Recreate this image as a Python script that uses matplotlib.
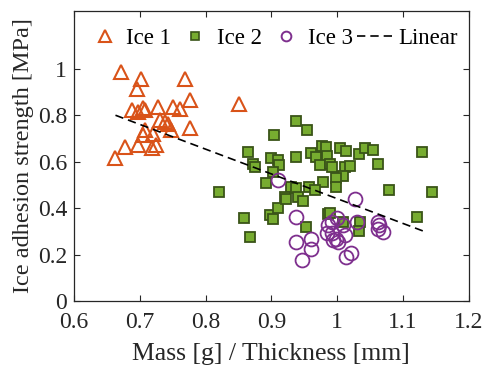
import numpy as np
import matplotlib.pyplot as plt
from matplotlib.lines import Line2D

# Ice 1 (triangles)
ice1_x = [0.672, 0.702, 0.695, 0.768, 0.851, 0.688, 0.697, 0.705, 0.708, 0.728,
          0.751, 0.761, 0.776, 0.730, 0.738, 0.743, 0.748, 0.776, 0.708, 0.705,
          0.720, 0.677, 0.697, 0.718, 0.725, 0.663]
ice1_y = [0.986, 0.958, 0.915, 0.958, 0.850, 0.822, 0.815, 0.831, 0.822, 0.836,
          0.836, 0.829, 0.865, 0.778, 0.771, 0.764, 0.735, 0.743, 0.735, 0.714,
          0.721, 0.664, 0.671, 0.657, 0.671, 0.617]

# Ice 2 (squares)
ice2_x = [0.820, 0.865, 0.872, 0.937, 0.954, 0.904, 0.899, 0.910, 0.912, 0.938,
          0.961, 0.968, 0.977, 0.983, 0.984, 0.974, 0.989, 0.993, 1.004, 1.014,
          1.034, 1.042, 1.054, 1.012, 1.019, 1.009, 0.999, 0.875, 0.892, 0.903,
          0.930, 0.938, 0.941, 0.958, 0.979, 0.998, 0.921, 0.966, 1.063, 1.130,
          1.079, 1.145, 1.121, 0.858, 0.867, 0.898, 0.902, 0.910, 0.922, 0.948,
          0.953, 0.986, 0.989, 1.009, 1.035, 1.034]
ice2_y = [0.470, 0.640, 0.592, 0.776, 0.738, 0.714, 0.614, 0.609, 0.585, 0.621,
          0.638, 0.618, 0.668, 0.664, 0.624, 0.585, 0.592, 0.575, 0.661, 0.648,
          0.632, 0.657, 0.652, 0.578, 0.581, 0.538, 0.528, 0.578, 0.506, 0.556,
          0.489, 0.485, 0.449, 0.489, 0.513, 0.489, 0.447, 0.477, 0.588, 0.642,
          0.477, 0.470, 0.363, 0.358, 0.277, 0.370, 0.351, 0.399, 0.439, 0.431,
          0.320, 0.374, 0.380, 0.338, 0.341, 0.302]

# Ice 3 (circles)
ice3_x = [0.910, 0.937, 0.937, 0.961, 0.960, 0.946, 1.027, 1.031, 0.987, 0.992,
          1.000, 1.009, 0.984, 0.992, 1.012, 0.994, 1.002, 0.999, 1.014, 1.021,
          1.063, 1.064, 1.063, 1.070]
ice3_y = [0.523, 0.360, 0.255, 0.269, 0.222, 0.176, 0.439, 0.341, 0.327, 0.341,
          0.356, 0.327, 0.291, 0.294, 0.284, 0.262, 0.255, 0.269, 0.188, 0.208,
          0.341, 0.327, 0.308, 0.298]

# linear fit endpoints
lin_x = [0.663, 1.134]
lin_y = [0.800, 0.298]

c1 = '#D95319'
c2_face = '#77AC30'
c2_edge = '#3A5418'
c3 = '#7E2F8E'
dash = (0, (5, 3))

plt.rcParams['font.family'] = ['Liberation Serif', 'DejaVu Serif']

fig = plt.figure(figsize=(4.84, 3.72), dpi=100)
ax = fig.add_axes([0.153, 0.191, 0.815, 0.780])

ax.plot(ice1_x, ice1_y, ls='none', marker='^', ms=10, mfc='none', mec=c1, mew=1.5)
ax.plot(ice2_x, ice2_y, ls='none', marker='s', ms=7, mfc=c2_face, mec=c2_edge, mew=1.3)
ax.plot(ice3_x, ice3_y, ls='none', marker='o', ms=10, mfc='none', mec=c3, mew=1.3)
ax.plot(lin_x, lin_y, ls=dash, color='black', lw=1.2)

ax.set_xlim(0.6, 1.2)
ax.set_ylim(0, 1.25)
ax.set_xticks([0.6, 0.7, 0.8, 0.9, 1.0, 1.1, 1.2])
ax.set_xticklabels(['0.6', '0.7', '0.8', '0.9', '1', '1.1', '1.2'])
ax.set_yticks([0, 0.2, 0.4, 0.6, 0.8, 1.0])
ax.set_yticklabels(['0', '0.2', '0.4', '0.6', '0.8', '1'])
ax.tick_params(direction='in', top=True, right=True, labelsize=17, length=4, width=0.8,
               colors='#262626')
ax.tick_params(axis='x', pad=8)
ax.tick_params(axis='y', pad=5)
for s in ax.spines.values():
    s.set_linewidth(0.9)
    s.set_color('#262626')

ax.set_xlabel('Mass [g] / Thickness [mm]', fontsize=18.5, color='#262626', labelpad=7)
ax.set_ylabel('Ice adhesion strength [MPa]', fontsize=17.5, color='#262626', labelpad=3)

handles = [
    Line2D([], [], ls='none', marker='^', ms=8, mfc='none', mec=c1, mew=1.5),
    Line2D([], [], ls='none', marker='s', ms=6, mfc=c2_face, mec=c2_edge, mew=1.2),
    Line2D([], [], ls='none', marker='o', ms=7, mfc='none', mec=c3, mew=1.4),
    Line2D([], [], ls=dash, color='black', lw=1.2),
]
ax.legend(handles, ['Ice 1', 'Ice 2', 'Ice 3', 'Linear'], loc='center',
          bbox_to_anchor=(0.5, 0.906), ncol=4, frameon=False, fontsize=16.5,
          handlelength=1.75, handletextpad=0.05, columnspacing=0.2, borderaxespad=0.0)

fig.savefig('out.png', dpi=100)
